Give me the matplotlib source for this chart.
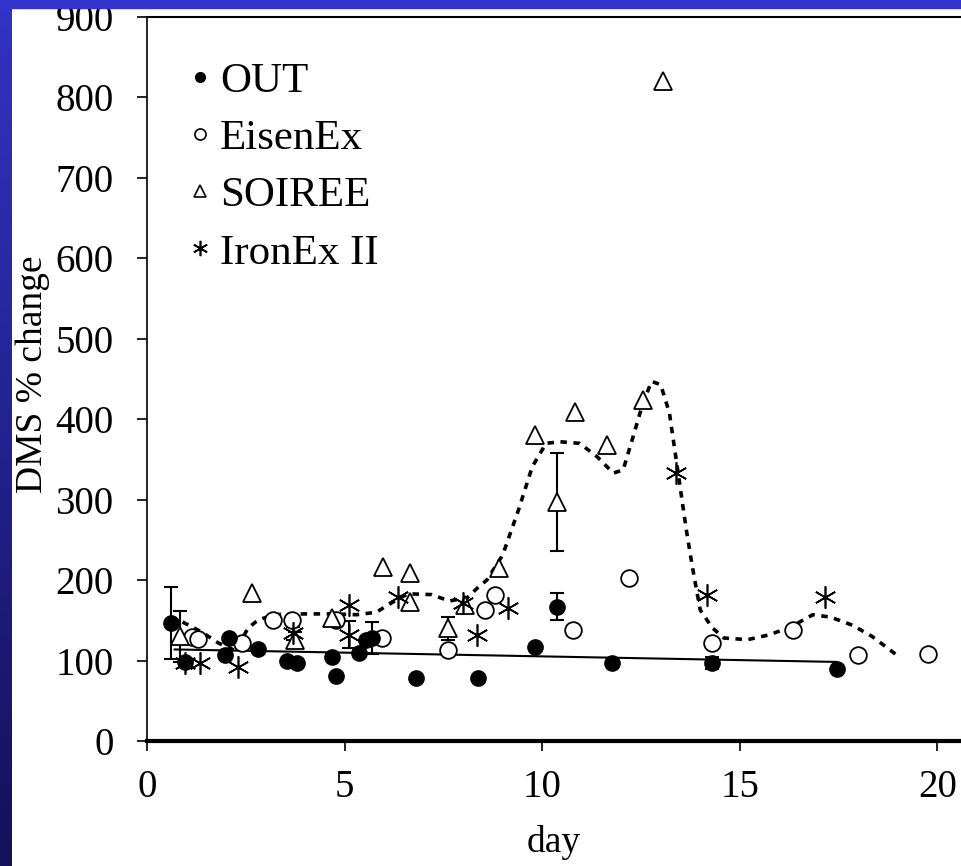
import numpy as np
import matplotlib.pyplot as plt
from matplotlib.lines import Line2D
from matplotlib.patches import Rectangle
from matplotlib.colors import LinearSegmentedColormap

plt.rcParams['font.family'] = ['Liberation Serif', 'DejaVu Serif']

# --- data ---
out_x = [0.6, 0.95, 1.97, 2.07, 2.8, 3.54, 3.79, 4.67, 4.78, 5.36, 5.55, 5.7,
         6.8, 8.37, 9.81, 10.37, 11.78, 14.3, 17.45]
out_y = [147, 98, 107, 128, 114, 100, 97, 104, 81, 109, 126, 128,
         78, 78, 117, 167, 97, 97, 90]

eisen_x = [1.14, 1.3, 2.4, 3.19, 3.67, 4.78, 5.94, 7.61, 8.55, 8.8, 10.77,
           12.2, 14.3, 16.36, 18.0, 19.77]
eisen_y = [129, 127, 122, 150, 150, 150, 128, 113, 163, 182, 138,
           203, 122, 138, 107, 108]

soiree_x = [0.83, 2.66, 3.74, 4.68, 5.97, 6.65, 6.65, 7.61, 8.04, 8.9, 9.81,
            10.37, 10.82, 11.63, 12.54, 13.05]
soiree_y = [130, 184, 126, 153, 216, 209, 173, 140, 169, 215, 380,
            297, 409, 368, 424, 820]

ironex_x = [0.95, 1.34, 2.3, 3.7, 5.1, 5.1, 6.35, 8.0, 8.35, 9.13, 13.4, 14.16, 17.17]
ironex_y = [97, 97, 92, 134, 169, 132, 179, 171, 132, 165, 333, 182, 179]

# error bars (x, y, +/-)
err_x = [0.6, 5.7, 10.37, 14.3, 0.83, 3.74, 7.61, 10.37, 5.1, 3.7]
err_y = [147, 128, 167, 97, 130, 126, 140, 297, 132, 134]
err_e = [45, 20, 17, 8, 32, 10, 14, 61, 17, 8]

# smoothed trend (dotted)
curve_x = [0.9, 1.4, 1.8, 2.25, 2.55, 2.8, 3.2, 4.0, 4.7, 5.3, 5.8, 6.2, 6.6,
           7.2, 7.65, 8.1, 8.4, 8.6, 9.0, 9.4, 9.75, 10.1, 10.45, 10.95, 11.4,
           11.8, 12.05, 12.3, 12.55, 12.77, 13.0, 13.22, 13.43, 13.65, 13.8,
           14.0, 14.3, 14.6, 15.2, 15.75, 16.3, 16.85, 17.3, 17.85, 18.35, 19.05]
curve_y = [148, 135, 122, 112, 140, 150, 157, 158, 158, 157, 160, 172, 183,
           182, 174, 178, 192, 200, 231, 287, 341, 370, 372, 370, 353,
           333, 337, 378, 420, 447, 443, 408, 337, 262, 217,
           163, 141, 128, 126, 132, 142, 157, 154, 144, 130, 104]

fig = plt.figure(figsize=(9.61, 8.66), dpi=100)
fig.patch.set_facecolor('white')

# slide decoration: blue strip on the left and band on top
strip = fig.add_axes([0, 0, 12 / 961, 1])
grad = np.linspace(0, 1, 256).reshape(-1, 1)
cmap = LinearSegmentedColormap.from_list('slide', ['#3333c4', '#13115a'])
strip.imshow(grad, aspect='auto', cmap=cmap, extent=[0, 1, 0, 1], origin='upper')
strip.axis('off')
fig.patches.append(Rectangle((0, 1 - 8 / 866), 1, 8 / 866, transform=fig.transFigure,
                             color='#3333cc', zorder=0))

ax = fig.add_axes([147 / 961, 1 - 741 / 866, 1 - 147 / 961, (741 - 17) / 866])

k = dict(color='black', linestyle='none')
ax.errorbar(err_x, err_y, yerr=err_e, fmt='none', ecolor='black',
            elinewidth=1.5, capsize=5, capthick=1.5, zorder=2)

# linear fit through OUT
p = np.polyfit(out_x, out_y, 1)
fx = np.array([min(out_x) + 0.1, max(out_x)])
ax.plot(fx, np.polyval(p, fx), color='black', lw=1.5, zorder=2)

ax.plot(curve_x, curve_y, color='black', lw=2.6, dashes=(1.8, 1.8), zorder=2)

ax.plot(out_x, out_y, marker='o', ms=11, mfc='black', mec='black', **k, zorder=4)
ax.plot(eisen_x, eisen_y, marker='o', ms=12, mfc='white', mec='black', mew=1.3,
        **k, zorder=3)
ax.plot(soiree_x, soiree_y, marker='^', ms=13, mfc='white', mec='black', mew=1.3,
        **k, zorder=3)
ax.plot(ironex_x, ironex_y, marker=(6, 2, 0), ms=16, mec='black', mew=1.2,
        **k, zorder=3)

ax.set_xlim(0, 20.6)
ax.set_ylim(0, 900)
ax.set_xticks([0, 5, 10, 15, 20])
ax.set_yticks(np.arange(0, 901, 100))

ax.spines['right'].set_visible(False)
ax.spines['left'].set_linewidth(1.2)
ax.spines['top'].set_linewidth(1.5)
ax.spines['bottom'].set_linewidth(3)
ax.tick_params(direction='out', length=7, width=1.2, labelsize=28)
ax.tick_params(axis='y', pad=17)
ax.tick_params(axis='x', pad=13)

ax.set_xlabel('day', fontsize=27, labelpad=14)
ax.set_ylabel('DMS % change', fontsize=27)
ax.yaxis.set_label_coords(-0.119, 0.507)

handles = [
    Line2D([], [], marker='o', ms=7, mfc='black', mec='black', **k),
    Line2D([], [], marker='o', ms=8, mfc='white', mec='black', mew=1.2, **k),
    Line2D([], [], marker='^', ms=8, mfc='white', mec='black', mew=1.2, **k),
    Line2D([], [], marker=(6, 2, 0), ms=11, mec='black', mew=1.2, **k),
]
ax.legend(handles, ['OUT', 'EisenEx', 'SOIREE', 'IronEx II'], loc='upper left',
          bbox_to_anchor=(0.026, 0.968), frameon=False, fontsize=31, borderpad=0,
          handlelength=0.5, handletextpad=0.2, labelspacing=0.42)

fig.savefig('out.png', dpi=100)
